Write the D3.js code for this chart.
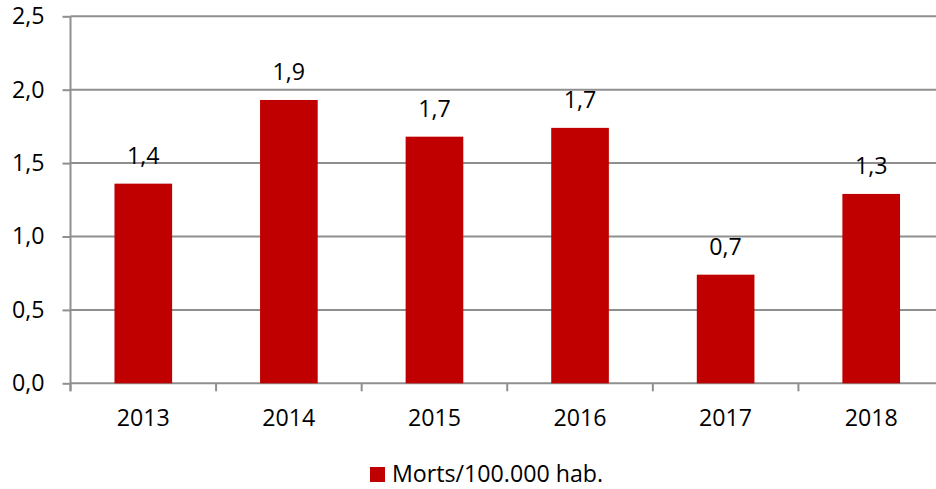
<!DOCTYPE html>
<html>
<head>
<meta charset="utf-8">
<script src="https://cdn.jsdelivr.net/npm/d3@7"></script>
<style>
  html, body { margin: 0; padding: 0; background: #fff; }
  svg text { font-family: "Open Sans", "Noto Sans", sans-serif; fill: #000; }
</style>
</head>
<body>
<svg id="chart" width="936" height="489"></svg>
<script>
const categories = ["2013", "2014", "2015", "2016", "2017", "2018"];
const values = [1.36, 1.93, 1.68, 1.74, 0.74, 1.29];
const valueLabels = ["1,4", "1,9", "1,7", "1,7", "0,7", "1,3"];
const yTicks = [0, 0.5, 1.0, 1.5, 2.0, 2.5];
const seriesName = "Morts/100.000 hab.";

(function () {
const svg = d3.select("#chart");
const pLeft = 70.5, pRight = 944, pTop = 16.3, pBottom = 383.3;
const fontSize = 23.2;
const gridColor = "#8f8f8f";
const barColor = "#C00000";

const x = d3.scaleBand().domain(categories).range([pLeft, pRight]).padding(0);
const y = d3.scaleLinear().domain([0, 2.5]).range([pBottom, pTop]);
const fmt = d => d.toFixed(1).replace(".", ",");

// gridlines
svg.append("g").selectAll("line").data(yTicks).join("line")
  .attr("x1", pLeft).attr("x2", 936)
  .attr("y1", d => y(d)).attr("y2", d => y(d))
  .attr("stroke", gridColor).attr("stroke-width", 2);

// y axis
const yAxis = d3.axisLeft(y).tickValues(yTicks).tickFormat(fmt).tickSize(8).tickPadding(18);
const gy = svg.append("g").attr("transform", `translate(${pLeft},0)`).call(yAxis);
gy.select(".domain").attr("stroke", gridColor).attr("stroke-width", 2).attr("d", `M0,${pTop}V${pBottom+8}`);
gy.selectAll(".tick line").attr("stroke", gridColor).attr("stroke-width", 2);
gy.selectAll(".tick text").attr("font-size", fontSize).attr("font-family", '"Open Sans", sans-serif').attr("fill", "#000");

// x axis ticks at category boundaries
const boundaries = categories.map(c => x(c)).concat([x(categories[categories.length-1]) + x.bandwidth()]);
svg.append("g").selectAll("line").data(boundaries.filter(b => b <= 936)).join("line")
  .attr("x1", d => d).attr("x2", d => d)
  .attr("y1", pBottom).attr("y2", pBottom + 8)
  .attr("stroke", gridColor).attr("stroke-width", 2);

// x labels
svg.append("g").selectAll("text").data(categories).join("text")
  .attr("x", d => x(d) + x.bandwidth()/2)
  .attr("y", 426)
  .attr("text-anchor", "middle")
  .attr("font-size", fontSize)
  .text(d => d);

// bars
const barW = x.bandwidth() * 0.396;
svg.append("g").selectAll("rect").data(values).join("rect")
  .attr("x", (d, i) => x(categories[i]) + (x.bandwidth() - barW)/2)
  .attr("y", d => y(d))
  .attr("width", barW)
  .attr("height", d => y(0) - y(d))
  .attr("fill", barColor);

// value labels
svg.append("g").selectAll("text").data(values).join("text")
  .attr("x", (d, i) => x(categories[i]) + x.bandwidth()/2)
  .attr("y", d => y(d) - 19.5)
  .attr("text-anchor", "middle")
  .attr("font-size", fontSize)
  .text((d, i) => valueLabels[i]);

// legend
const lg = svg.append("g");
lg.append("rect").attr("x", 370).attr("y", 467).attr("width", 15).attr("height", 15).attr("fill", barColor);
lg.append("text").attr("x", 392).attr("y", 482).attr("font-size", fontSize).text(seriesName);
})();
</script>
</body>
</html>
